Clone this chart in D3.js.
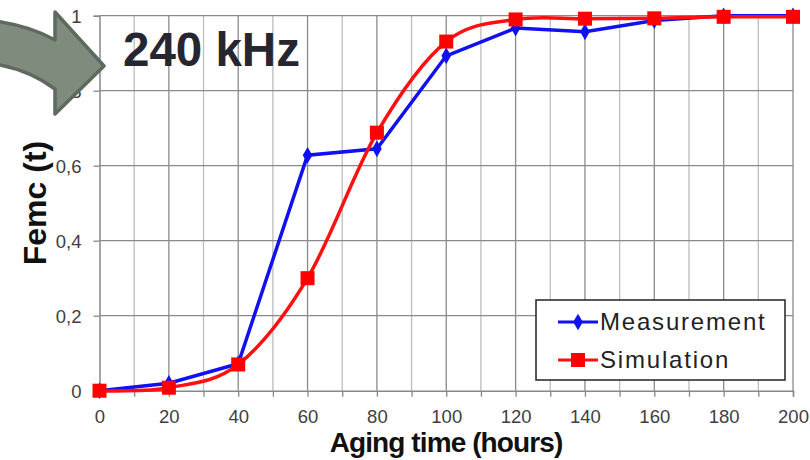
<!DOCTYPE html>
<html><head><meta charset="utf-8">
<script src="https://cdn.jsdelivr.net/npm/d3@7"></script>
<style>body{margin:0;background:#fff}svg{display:block}</style>
</head><body>
<svg id="c" width="810" height="460"></svg>
<script>
const hours = [0,20,40,60,80,100,120,140,160,180,200];
const measurement = [0,0.02,0.072,0.628,0.645,0.893,0.967,0.957,0.987,1,1];
const simulation = [0,0.008,0.07,0.3,0.688,0.931,0.99,0.992,0.993,0.997,0.997];
const yTicks = [0,0.2,0.4,0.6,0.8,1];
const yTickLabels = ["0","0,2","0,4","0,6","0,8","1"];
const xTicks = [0,20,40,60,80,100,120,140,160,180,200];
const seriesNames = ["Measurement","Simulation"];

const svg = d3.select("#c");
const x = d3.scaleLinear().domain([0,200]).range([99.5,793]);
const y = d3.scaleLinear().domain([0,1]).range([390.7,15.7]);
const font = "Arial, 'Liberation Sans', sans-serif";

// grid
const g = svg.append("g");
g.selectAll("line.vx").data(d3.range(10,201,10)).join("line")
  .attr("x1",d=>x(d)).attr("x2",d=>x(d)).attr("y1",y(0)).attr("y2",y(1))
  .attr("stroke",d=>d%20===0?"#8a8a8a":"#bdbdbd").attr("stroke-width",1.3);
g.selectAll("line.hy").data(yTicks.slice(1)).join("line")
  .attr("x1",x(0)).attr("x2",x(200)).attr("y1",d=>y(d)).attr("y2",d=>y(d))
  .attr("stroke","#8a8a8a").attr("stroke-width",1.3);

// axes
const xAxis = d3.axisBottom(x).tickValues(d3.range(0,201,10)).tickSize(6)
  .tickFormat(d=>xTicks.includes(d)?d:"");
const xa = svg.append("g").attr("transform",`translate(0,${y(0)})`).call(xAxis);
xa.select(".domain").attr("stroke","#888").attr("stroke-width",1.5);
xa.selectAll(".tick line").attr("stroke","#888").attr("stroke-width",1.3);
xa.selectAll("text").attr("font-family",font).attr("font-size",18.5).attr("fill","#404040")
  .attr("dy",0).attr("y",32.5);

const yAxis = d3.axisLeft(y).tickValues(yTicks).tickSize(6).tickFormat((d,i)=>yTickLabels[i]);
const ya = svg.append("g").attr("transform",`translate(${x(0)},0)`).call(yAxis);
ya.select(".domain").attr("stroke","#888").attr("stroke-width",1.5);
ya.selectAll(".tick line").attr("stroke","#888").attr("stroke-width",1.3);
ya.selectAll("text").attr("font-family",font).attr("font-size",18.5).attr("fill","#404040")
  .attr("x",-18).attr("dy","0.36em");

// titles
svg.append("text").attr("x",446).attr("y",452).attr("text-anchor","middle")
  .attr("font-family",font).attr("font-weight","bold").attr("font-size",28).attr("letter-spacing",-0.9).attr("fill","#111")
  .text("Aging time (hours)");
svg.append("text").attr("transform","translate(46,203) rotate(-90)").attr("text-anchor","middle")
  .attr("font-family",font).attr("font-weight","bold").attr("font-size",32).attr("fill","#111")
  .text("Femc (t)");

// lines
const lineM = d3.line().x((d,i)=>x(hours[i])).y(d=>y(d));
const lineS = d3.line().x((d,i)=>x(hours[i])).y(d=>y(d)).curve(d3.curveCatmullRom.alpha(0));
svg.append("path").attr("d",lineM(measurement)).attr("fill","none").attr("stroke","#1010f0").attr("stroke-width",3.5);
svg.append("path").attr("d",lineS(simulation)).attr("fill","none").attr("stroke","#ff1010").attr("stroke-width",3.5);

const diamond = d3.symbol().type(d3.symbolDiamond).size(80);
svg.selectAll("path.m").data(measurement).join("path")
  .attr("d",diamond).attr("transform",(d,i)=>`translate(${x(hours[i])},${y(d)})`).attr("fill","#1010f0");
svg.selectAll("rect.s").data(simulation).join("rect")
  .attr("x",(d,i)=>x(hours[i])-7).attr("y",d=>y(d)-7).attr("width",14).attr("height",14).attr("fill","#ff0000");

// legend
const lg = svg.append("g");
lg.append("rect").attr("x",536).attr("y",300).attr("width",249).attr("height",80)
  .attr("fill","#fff").attr("stroke","#222").attr("stroke-width",1.5);
const ly = [322,360];
lg.append("line").attr("x1",558).attr("x2",598).attr("y1",ly[0]).attr("y2",ly[0]).attr("stroke","#1010f0").attr("stroke-width",3);
lg.append("path").attr("d",diamond).attr("transform",`translate(578,${ly[0]})`).attr("fill","#1010f0");
lg.append("line").attr("x1",558).attr("x2",598).attr("y1",ly[1]).attr("y2",ly[1]).attr("stroke","#ff1010").attr("stroke-width",3);
lg.append("rect").attr("x",571).attr("y",ly[1]-7).attr("width",14).attr("height",14).attr("fill","#ff0000");
lg.selectAll("text").data(seriesNames).join("text")
  .attr("x",600).attr("y",(d,i)=>ly[i]+7.5).attr("font-family",font).attr("font-size",24)
  .attr("letter-spacing",1.8).attr("fill","#222").text(d=>d);

// arrow
svg.append("path")
  .attr("d","M-5,21 Q30,26 55,40 L55,12 L104,66 L55,114 L55,89 Q30,70 -5,64 Z")
  .attr("fill","#7e8b7d").attr("stroke","#5f6a5e").attr("stroke-width",3.5).attr("stroke-linejoin","round");

// annotation
svg.append("text").attr("x",123).attr("y",66).attr("font-family",font).attr("font-weight","bold")
  .attr("font-size",47.5).attr("fill","#262631").text("240 kHz");
</script>
</body></html>
